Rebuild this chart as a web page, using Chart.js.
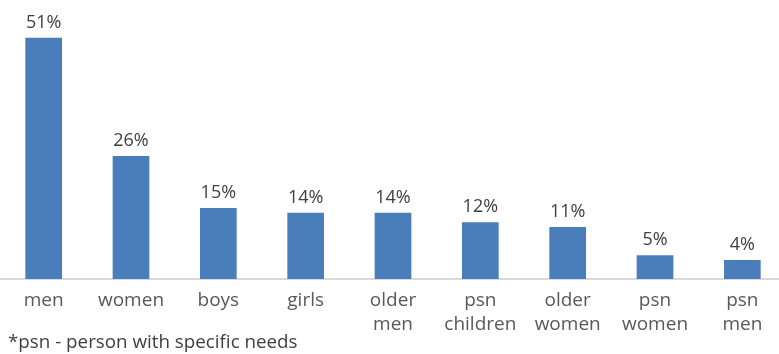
<!DOCTYPE html>
<html>
<head>
<meta charset="utf-8">
<script src="https://cdn.jsdelivr.net/npm/chart.js@4/dist/chart.umd.min.js"></script>
<style>
    html, body { margin: 0; padding: 0; background: #fff; overflow: hidden; }
    #wrap { position: relative; width: 786px; height: 354px; }
    #nota {
        position: absolute; left: 8px; top: 328px;
        font-family: "Open Sans", sans-serif; font-size: 18.8px; color: #404040;
        white-space: nowrap; line-height: 26px;
    }
</style>
</head>
<body>
<div id="wrap">
    <canvas id="myChart"></canvas>
    <div id="nota">*psn - person with specific needs</div>
</div>
<script>
const categorias = [
    'men', 'women', 'boys', 'girls', ['older', 'men'],
    ['psn', 'children'], ['older', 'women'], ['psn', 'women'], ['psn', 'men']
];
const valores = [51, 26, 15, 14, 14, 12, 11, 5, 4];
const rotulos = ['51%', '26%', '15%', '14%', '14%', '12%', '11%', '5%', '4%'];

// escreve o percentual em cima de cada barra
const rotuloBarras = {
    id: 'rotuloBarras',
    afterDatasetsDraw(chart) {
        const ctx = chart.ctx;
        const meta = chart.getDatasetMeta(0);
        ctx.save();
        ctx.font = '18px "Open Sans", sans-serif';
        ctx.fillStyle = '#404040';
        ctx.textAlign = 'center';
        ctx.textBaseline = 'alphabetic';
        meta.data.forEach((bar, i) => {
            ctx.fillText(rotulos[i], bar.x, bar.y - 10);
        });
        ctx.restore();
    }
};

new Chart('myChart', {
    type: 'bar',
    data: {
        labels: categorias,
        datasets: [{
            data: valores,
            backgroundColor: '#4a7ebb',
            borderWidth: 0,
            barPercentage: 0.42,
            categoryPercentage: 1
        }]
    },
    options: {
        responsive: true,
        maintainAspectRatio: false,
        animation: false,
        layout: { padding: 0 },
        plugins: {
            legend: { display: false },
            tooltip: { enabled: false }
        },
        scales: {
            x: {
                grid: { display: false, drawTicks: false },
                border: { display: true, color: '#d9d9d9', width: 2 },
                ticks: {
                    color: '#595959',
                    padding: 9,
                    maxRotation: 0,
                    autoSkip: false,
                    font: { family: '"Open Sans", sans-serif', size: 19, lineHeight: 1.3 }
                },
                afterFit(scale) { scale.height = 75; }
            },
            y: {
                display: false,
                min: 0,
                max: 59
            }
        }
    },
    plugins: [rotuloBarras]
});
</script>
</body>
</html>
